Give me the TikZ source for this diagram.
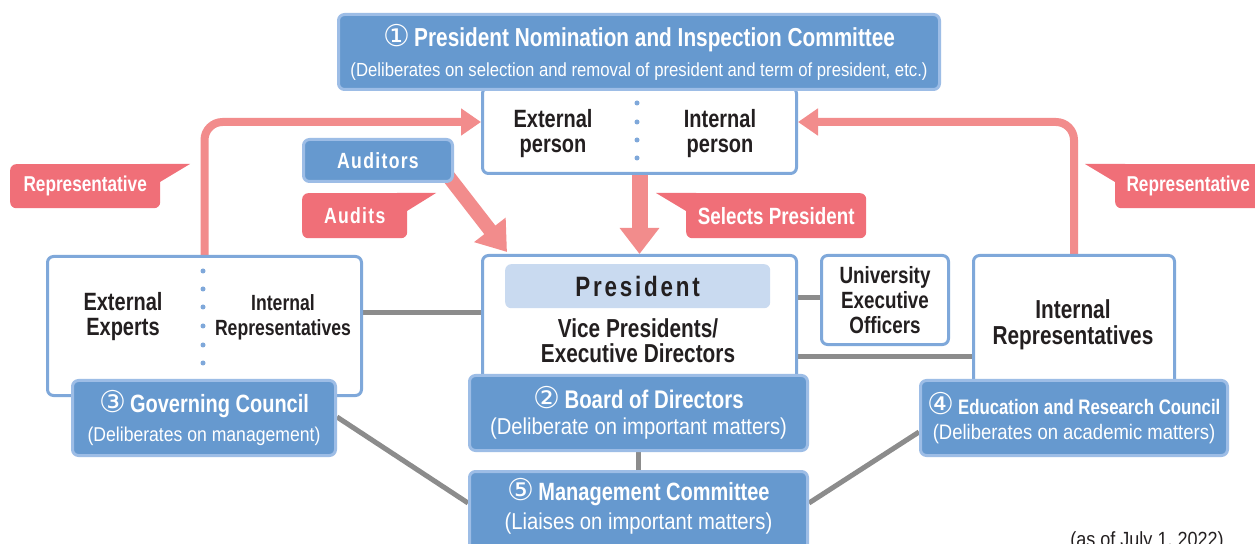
\documentclass[tikz,border=0pt]{standalone}
\usepackage{fontspec}
\setmainfont{Liberation Sans}[FakeStretch=0.8]
\newfontfamily\regf{Liberation Sans}[FakeStretch=0.88]
\newfontfamily\circfont{DejaVu Sans}
\usetikzlibrary{arrows.meta,backgrounds}
\definecolor{bluefill}{HTML}{6699CF}
\definecolor{blueedge}{HTML}{9DBDE6}
\definecolor{wedge}{HTML}{7FA8DA}
\definecolor{presfill}{HTML}{C9DAF0}
\definecolor{pinklab}{HTML}{F06F78}
\definecolor{pinkarr}{HTML}{F28C8C}
\definecolor{greyln}{HTML}{8C8C8C}
\definecolor{txt}{HTML}{231F20}
\newcommand\btf[2]{\fontsize{#1bp}{#2bp}\selectfont\bfseries}
\newcommand\rgf[2]{\regf\fontsize{#1bp}{#2bp}\selectfont}
\newcommand\cnum[1]{{\circfont\mdseries\fontsize{30bp}{25bp}\selectfont #1}}
\begin{document}
\begin{tikzpicture}[x=1bp,y=-1bp,
  bluebox/.style={fill=bluefill,draw=blueedge,line width=3bp,rounded corners=6bp,anchor=north west,inner sep=0pt,text=white,align=center},
  whitebox/.style={fill=white,draw=wedge,line width=3bp,rounded corners=6bp,anchor=north west,inner sep=0pt},
  labelbox/.style={fill=pinklab,rounded corners=6bp,anchor=north west,inner sep=0pt,text=white},
  conn/.style={draw=greyln,line width=5bp},
  pinkline/.style={draw=pinkarr,line width=8bp,rounded corners=18bp,-{Triangle[width=26bp,length=20bp]}},
  bigarrow/.style={draw=pinkarr,line width=16bp,-{Triangle[width=38bp,length=26bp]}},
  dotmark/.style={circle,fill=wedge,inner sep=0pt,minimum size=5bp},
  btext/.style={text=txt,align=center}]
\useasboundingbox (0,0) rectangle (1255,544);

% white boxes
\node[whitebox,minimum width=314bp,minimum height=86bp] (nomw) at (481,86) {};
\node[btext,font=\btf{25}{25}] (nomext) at (553,134) {External\\person};
\node[btext,font=\btf{25}{25}] (nomint) at (720,134) {Internal\\person};
\foreach \yy [count=\i] in {103,122,140,158} \node[dotmark] (nd\i) at (637,\yy) {};

\node[whitebox,minimum width=314bp,minimum height=139bp] (govw) at (46,255) {};
\node[btext,font=\btf{25}{25}] (govext) at (123,317) {External\\Experts};
\node[btext,font=\btf{22}{25}] (govint) at (283,317) {Internal\\Representatives};
\foreach \yy [count=\i] in {271,289,307,326,345,363} \node[dotmark] (gd\i) at (203,\yy) {};

\node[whitebox,minimum width=314bp,minimum height=130bp] (pres) at (481,254) {};
\node[fill=presfill,rounded corners=6bp,anchor=north west,minimum width=265bp,minimum height=44bp,inner sep=0pt,text=txt,font=\btf{28}{28}\addfontfeatures{LetterSpace=10}] (presbox) at (505,264) {President};
\node[btext,font=\btf{26}{25}] (vp) at (638,341) {Vice Presidents/\\Executive Directors};

\node[whitebox,minimum width=127bp,minimum height=89bp,btext,font=\btf{23.5}{25}] (ueo) at (820,254) {University\\Executive\\Officers};

\node[whitebox,minimum width=201bp,minimum height=136bp] (irw) at (972,254) {};
\node[btext,font=\btf{26}{26}] (irtxt) at (1073,325) {Internal\\Representatives};

% blue boxes
\node[bluebox,minimum width=601bp,minimum height=75bp] (nom) at (337,13)
  {{\btf{26}{26}\cnum{①}\,President Nomination and Inspection Committee}\\[10bp]{\rgf{19}{19}(Deliberates on selection and removal of president and term of president, etc.)}};
\node[bluebox,minimum width=263bp,minimum height=75bp] (govb) at (71,379)
  {{\btf{25}{25}\cnum{③}\,Governing Council}\\[8bp]{\rgf{20}{20}(Deliberates on management)}};
\node[bluebox,minimum width=338bp,minimum height=75bp] (board) at (468,374)
  {{\btf{25.5}{25.5}\cnum{②}\,Board of Directors}\\[8bp]{\rgf{23}{23}(Deliberate on important matters)}};
\node[bluebox,minimum width=307bp,minimum height=75bp] (edub) at (919,379)
  {{\btf{21}{25}\cnum{④}\,Education and Research Council}\\[8bp]{\rgf{21}{21}(Deliberates on academic matters)}};
\node[bluebox,minimum width=338bp,minimum height=82bp] (mgmt) at (468,470)
  {{\btf{25}{25}\cnum{⑤}\,Management Committee}\\[6bp]{\rgf{23}{23}(Liaises on important matters)}\\[6bp]};
\node[bluebox,minimum width=149bp,minimum height=42bp,font=\btf{22}{22}\addfontfeatures{LetterSpace=6}] (aud) at (302,138) {Auditors};

% callout labels
\fill[pinklab] (150,164) -- (190,164) -- (160,182) -- (150,182) -- cycle;
\node[labelbox,minimum width=150bp,minimum height=44bp,font=\btf{21.5}{22}] (replab1) at (10,164) {Representative};
\fill[pinklab] (397,193) -- (436,193) -- (407,211) -- (397,211) -- cycle;
\node[labelbox,minimum width=105bp,minimum height=45bp,font=\btf{22}{22}\addfontfeatures{LetterSpace=6}] (audlab) at (302,193) {Audits};
\fill[pinklab] (696,193) -- (656,193) -- (686,211) -- (696,211) -- cycle;
\node[labelbox,minimum width=180bp,minimum height=45bp,font=\btf{23.5}{22}] (sellab) at (686,193) {Selects President};
\fill[pinklab] (1125,164) -- (1085,164) -- (1115,182) -- (1125,182) -- cycle;
\node[labelbox,minimum width=150bp,minimum height=44bp,font=\btf{21.5}{22}] (replab2) at (1115,164) {\hspace*{-4bp}Representative};

\node[text=txt,font=\rgf{20.5}{20}] (asof) at (1147,541) {(as of July 1, 2022)};

\coordinate (audstart) at (438,163);
\coordinate (audtip) at (507,252);

\begin{pgfonlayer}{background}
\fill[white] (0,0) rectangle (1255,544);
\draw[conn] (govw.east |- 0,313) -- (pres.west |- 0,313);
\draw[conn] (presbox.east |- 0,298) -- (ueo.west |- 0,298);
\draw[conn] (pres.east |- 0,357) -- (irw.west |- 0,357);
\draw[conn] (board.south) -- (mgmt.north);
\draw[conn] (govb.east |- 0,417) -- (mgmt.west |- 0,503);
\draw[conn] (edub.west |- 0,432) -- (mgmt.east |- 0,503);
\draw[pinkline] (govw.north) |- (nomw.west |- 0,122);
\draw[pinkline] (irw.north) |- (nomw.east |- 0,122);
\draw[bigarrow] (nomw.south) -- (pres.north);
\draw[draw=pinkarr,line width=14bp,-{Triangle[width=38bp,length=28bp]}] (audstart) -- (audtip);
\end{pgfonlayer}
\end{tikzpicture}
\end{document}
